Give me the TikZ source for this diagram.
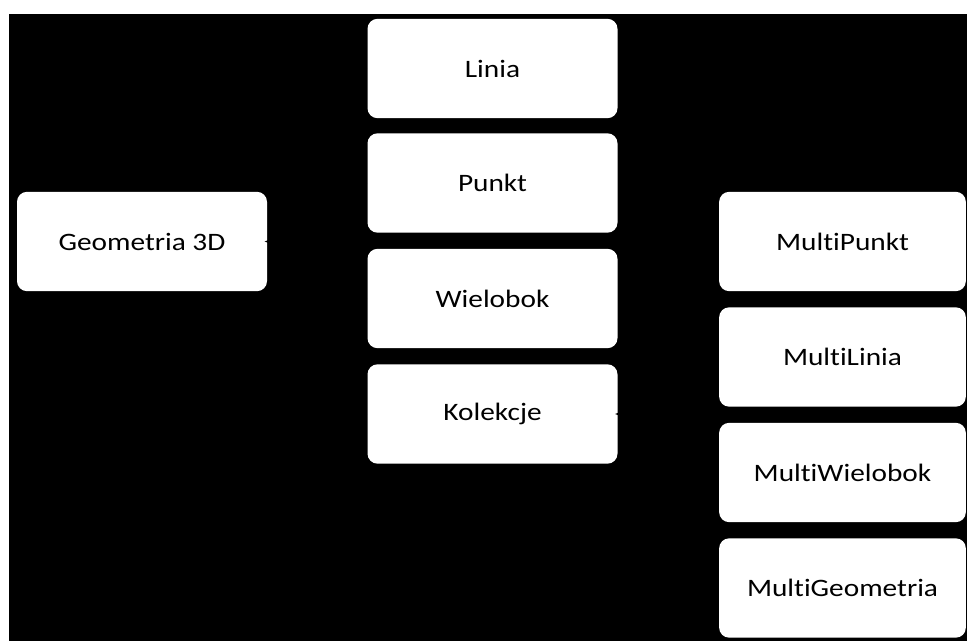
\documentclass[tikz,border=0pt]{standalone}
\usepackage{fontspec}
\setmainfont{Carlito}[FakeStretch=1.17,Ligatures={NoCommon}]
\usetikzlibrary{arrows.meta}
\begin{document}
\begin{tikzpicture}[x=0.75pt,y=-0.75pt,
  box/.style={fill=white,draw=none,rounded corners=7.5pt,inner sep=0pt,
    minimum width=187.5pt,minimum height=74.5pt,font=\fontsize{18.8pt}{22pt}\selectfont},
  link/.style={draw=black,line width=1.5pt},
  conn/.style={link,-{Stealth[length=9pt,width=7pt]},shorten >=-2pt}]
\useasboundingbox (0,0) rectangle (967,641);
\fill[white] (0,0) rectangle (967,641);
\fill[black] (9,14) rectangle (967,641);

% root and first level
\node[box] (geo) at (142,241.5) {Geometria 3D};
\node[box] (linia) at (492.5,68.5) {Linia};
\node[box] (punkt) at (492.5,183) {Punkt};
\node[box] (wiel) at (492.5,298.5) {Wielobok};
\node[box] (kol) at (492.5,414) {Kolekcje};

% collection types
\node[box,minimum width=185pt] (mpunkt) at (842.5,241.5) {MultiPunkt};
\node[box,minimum width=185pt] (mlinia) at (842.5,357) {MultiLinia};
\node[box,minimum width=185pt] (mwiel) at (842.5,472.5) {MultiWielobok};
\node[box,minimum width=185pt] (mgeo) at (842.5,588) {MultiGeometria};

% connectors (black, only their tips show on the white boxes)
\coordinate (j1) at (317,241.5);
\coordinate (j2) at (668,414);
\foreach \n in {linia,punkt,wiel,kol}
  \draw[link] (\n.west) -| (j1);
\draw[conn] (j1) -- (geo.east);
\foreach \n in {mpunkt,mlinia,mwiel,mgeo}
  \draw[link] (\n.west) -| (j2);
\draw[conn] (j2) -- (kol.east);
\end{tikzpicture}
\end{document}
